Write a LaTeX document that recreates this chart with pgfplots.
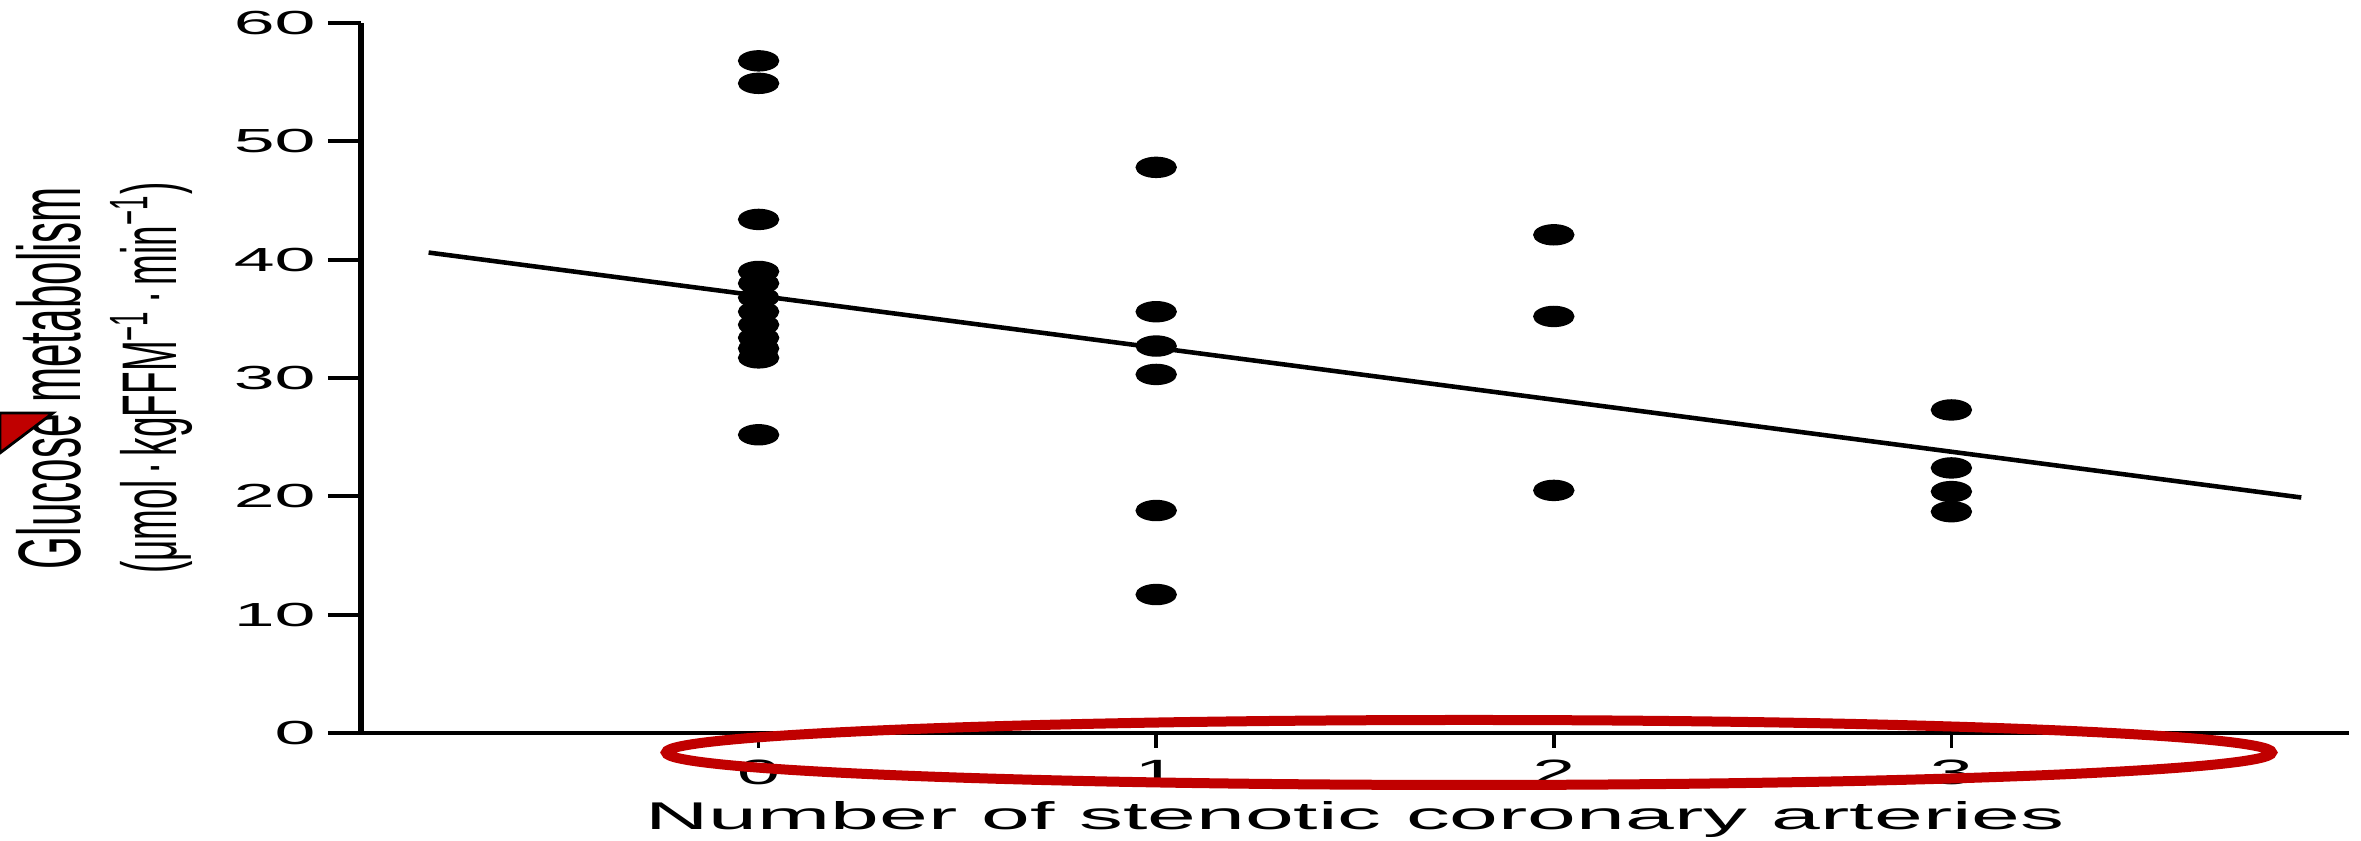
\documentclass[border=0pt]{standalone}
\usepackage{pgfplots}
\pgfplotsset{compat=1.18}
\usepackage{graphicx}
\usepackage{fontspec}
\setmainfont{Liberation Sans}
\newcommand\sx[1]{\scalebox{2.2}[1]{#1}}
\definecolor{annred}{RGB}{192,0,0}
\begin{document}
\begin{tikzpicture}[x=1mm,y=1mm]
\useasboundingbox (0,0) rectangle (236.1,84.1);
\begin{axis}[
  at={(36.1mm,10.8mm)}, anchor=south west,
  scale only axis, width=198.8mm, height=71mm,
  xmin=-1, xmax=4, ymin=0, ymax=60,
  axis lines=left, axis line style={-, black},
  x axis line style={line width=1.1pt},
  y axis line style={line width=1.7pt},
  clip=false,
  tick align=outside, major tick length=3.3mm,
  ytick={0,10,20,30,40,50,60},
  yticklabels={\sx{0},\sx{10},\sx{20},\sx{30},\sx{40},\sx{50},\sx{60}},
  ytick style={line width=1.2pt, black},
  yticklabel style={font=\fontsize{9.5}{11}\selectfont, anchor=east},
  xtick={0,1,2,3},
  xticklabels={\sx{0},\sx{1},\sx{2},\sx{3}},
  xtick style={draw=none},
  xticklabel style={font=\fontsize{10}{12}\selectfont, anchor=base, yshift=-1.9mm},
  xlabel={\scalebox{2.27}[1]{Number of stenotic coronary arteries}},
  every axis x label/.style={at={(axis description cs:0.5,-0.1366)}, anchor=base, font=\fontsize{11}{13}\selectfont},
  ylabel={\scalebox{1}[2.1]{\begin{tabular}{@{}c@{}}Glucose metabolism\\ {\fontsize{10.5}{12.5}\selectfont (μmol\,·\,kgFFM\textsuperscript{−1}\,·\,min\textsuperscript{−1})}\end{tabular}}},
  every axis y label/.style={at={(axis description cs:-0.1265,0.5)}, rotate=90, anchor=center, font=\fontsize{12}{13}\selectfont},
]
% short x ticks
\addplot[ycomb, black, line width=1pt, mark=none] coordinates {(0,-1.3) (1,-1.3) (2,-1.3) (3,-1.3)};
% regression line
\addplot[black, line width=1.3pt, mark=none] coordinates {(-0.83,40.6) (3.88,19.9)};
% data points
\addplot[only marks, mark=*, mark size=1mm, mark options={xscale=2, fill=black, draw=black}] coordinates {
(0,56.8) (0,54.9) (0,43.4) (0,39.0) (0,38.0) (0,36.8) (0,35.6) (0,34.5) (0,33.4) (0,32.5) (0,31.7) (0,25.2)
(1,47.8) (1,35.6) (1,32.7) (1,30.3) (1,18.8) (1,11.7)
(2,42.1) (2,35.2) (2,20.5)
(3,27.3) (3,22.4) (3,20.4) (3,18.7)
};
\end{axis}
\draw[annred, line width=1.0mm] (146.9,8.85) ellipse [x radius=80.3, y radius=3.25];
\filldraw[fill=annred, draw=black, line width=0.8pt] (0,42.8) -- (5.3,42.8) -- (0,38.8) -- cycle;
\end{tikzpicture}
\end{document}
